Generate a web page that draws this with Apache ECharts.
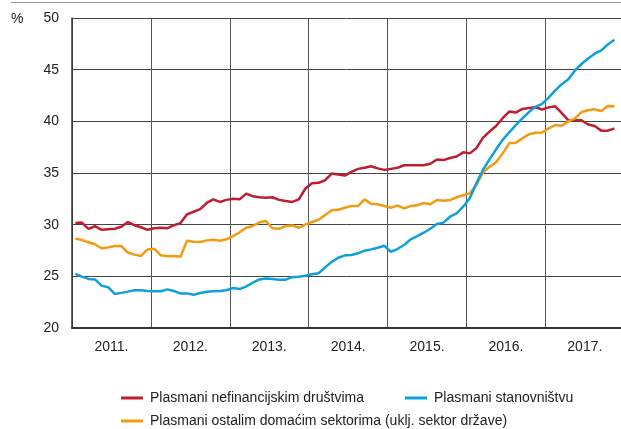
<!DOCTYPE html>
<html>
<head>
<meta charset="utf-8">
<script src="https://cdn.jsdelivr.net/npm/echarts@6/dist/echarts.min.js"></script>
<style>
  html, body { margin: 0; padding: 0; background: #fff; }
  #chart { width: 621px; height: 429px; }
</style>
</head>
<body>
<div id="chart"></div>
<script>
// Monthly shares (%), January 2011 – November 2017
const yearLabels = ['2011.', '2012.', '2013.', '2014.', '2015.', '2016.', '2017.'];
const yTicks = { min: 20, max: 50, step: 5 };

const nefinancijska = [
  30.15, 30.2, 29.6, 29.85, 29.5, 29.55, 29.6, 29.8, 30.25, 29.95, 29.75, 29.5,
  29.65, 29.7, 29.65, 29.95, 30.15, 31.0, 31.25, 31.5, 32.1, 32.45, 32.2, 32.4,
  32.5, 32.45, 33.0, 32.75, 32.65, 32.6, 32.65, 32.4, 32.3, 32.2, 32.45, 33.5,
  34.0, 34.05, 34.3, 34.95, 34.85, 34.75, 35.1, 35.4, 35.5, 35.65, 35.45, 35.3,
  35.4, 35.5, 35.75, 35.75, 35.75, 35.75, 35.9, 36.3, 36.25, 36.45, 36.6, 37.0,
  36.9, 37.4, 38.4, 39.0, 39.55, 40.3, 40.95, 40.85, 41.2, 41.28, 41.36, 41.15,
  41.35, 41.45, 40.8, 40.1, 40.1, 40.1, 39.7, 39.55, 39.1, 39.1, 39.3
];
const stanovnistvo = [
  25.23, 24.97, 24.75, 24.7, 24.1, 23.95, 23.3, 23.4, 23.52, 23.65, 23.65, 23.58,
  23.55, 23.55, 23.74, 23.58, 23.35, 23.35, 23.22, 23.39, 23.5, 23.55, 23.58, 23.65,
  23.87, 23.77, 24.03, 24.38, 24.7, 24.8, 24.74, 24.68, 24.68, 24.92, 24.97, 25.05,
  25.2, 25.3, 25.87, 26.4, 26.8, 27.03, 27.06, 27.23, 27.48, 27.61, 27.77, 27.96,
  27.38, 27.64, 28.03, 28.58, 28.9, 29.22, 29.61, 30.06, 30.2, 30.77, 31.1, 31.74,
  32.55, 34.0, 35.29, 36.32, 37.29, 38.2, 38.94, 39.64, 40.29, 40.9, 41.4, 41.7,
  42.3, 43.0, 43.6, 44.07, 44.93, 45.55, 46.08, 46.55, 46.87, 47.43, 47.9
];
const ostali = [
  28.65, 28.52, 28.3, 28.1, 27.72, 27.8, 27.93, 27.93, 27.3, 27.1, 26.97, 27.6,
  27.67, 27.03, 26.95, 26.97, 26.9, 28.45, 28.35, 28.32, 28.48, 28.55, 28.45, 28.58,
  28.9, 29.26, 29.7, 29.87, 30.23, 30.35, 29.65, 29.6, 29.87, 29.93, 29.7, 30.03,
  30.26, 30.48, 30.94, 31.4, 31.45, 31.64, 31.8, 31.8, 32.45, 32.03, 31.97, 31.8,
  31.64, 31.87, 31.58, 31.8, 31.87, 32.1, 31.97, 32.39, 32.32, 32.39, 32.65, 32.84,
  33.03, 33.84, 35.03, 35.6, 36.03, 36.9, 37.87, 37.93, 38.35, 38.74, 38.9, 38.92,
  39.32, 39.64, 39.58, 40.0, 40.29, 40.9, 41.07, 41.16, 41.0, 41.48, 41.45
];

const names = [
  'Plasmani nefinancijskim društvima',
  'Plasmani stanovništvu',
  'Plasmani ostalim domaćim sektorima (uklj. sektor države)'
];
const colors = ['#be1e2d', '#0ea0dc', '#f49a10'];

// x runs in months from the start of 2011; each point sits mid-month
const xMax = 83.5;
const toPairs = arr => arr.map((v, k) => [k + 0.5, v]);

const font = 'Liberation Sans, Arial, sans-serif';
const txt = { fontFamily: font, fontSize: 14, color: '#222' };

const chart = echarts.init(document.getElementById('chart'), null, { renderer: 'canvas' });

function legendAt(name, left, top) {
  return {
    data: [name], left: left, top: top, padding: 0,
    icon: 'rect', itemWidth: 22, itemHeight: 3,
    textStyle: Object.assign({}, txt, { padding: [0, 0, 0, 2] })
  };
}

chart.setOption({
  animation: false,
  color: colors,
  grid: { left: 72, right: 0, top: 18, bottom: 101, containLabel: false },
  xAxis: [
    {
      type: 'value', min: 0, max: xMax, interval: 12,
      axisLine: { show: true, lineStyle: { color: '#333', width: 2 } },
      axisTick: { show: false },
      axisLabel: { show: false },
      splitLine: { show: true, lineStyle: { color: '#555', width: 1 } }
    },
    {
      type: 'value', min: 0, max: xMax, interval: 6, position: 'bottom',
      axisLine: { show: false }, axisTick: { show: false },
      splitLine: { show: false },
      axisLabel: Object.assign({}, txt, {
        margin: 12, showMaxLabel: false,
        formatter: v => (v % 12 === 6 ? yearLabels[(v - 6) / 12] : '')
      })
    }
  ],
  yAxis: {
    type: 'value', min: yTicks.min, max: yTicks.max, interval: yTicks.step,
    axisLine: { show: true, lineStyle: { color: '#333', width: 1.5 } },
    axisTick: { show: false },
    axisLabel: Object.assign({}, txt, { margin: 13 }),
    splitLine: { show: true, lineStyle: { color: '#444', width: 1 } }
  },
  legend: [
    legendAt(names[0], 121, 391),
    legendAt(names[1], 405, 391),
    legendAt(names[2], 121, 414)
  ],
  graphic: [
    { type: 'line', shape: { x1: 11, y1: 2.5, x2: 621, y2: 2.5 }, style: { stroke: '#999', lineWidth: 1 } },
    { type: 'text', left: 11, top: 12, style: { text: '%', font: '14px ' + font, fill: '#222' } }
  ],
  series: [
    { name: names[0], data: toPairs(nefinancijska) },
    { name: names[2], data: toPairs(ostali) },
    { name: names[1], data: toPairs(stanovnistvo) }
  ].map((s, i) => Object.assign({
    type: 'line', xAxisIndex: 0, showSymbol: false, symbol: 'none',
    lineStyle: { width: 2.5 }, z: 3 + i
  }, s, { color: colors[names.indexOf(s.name)] }))
});
</script>
</body>
</html>
